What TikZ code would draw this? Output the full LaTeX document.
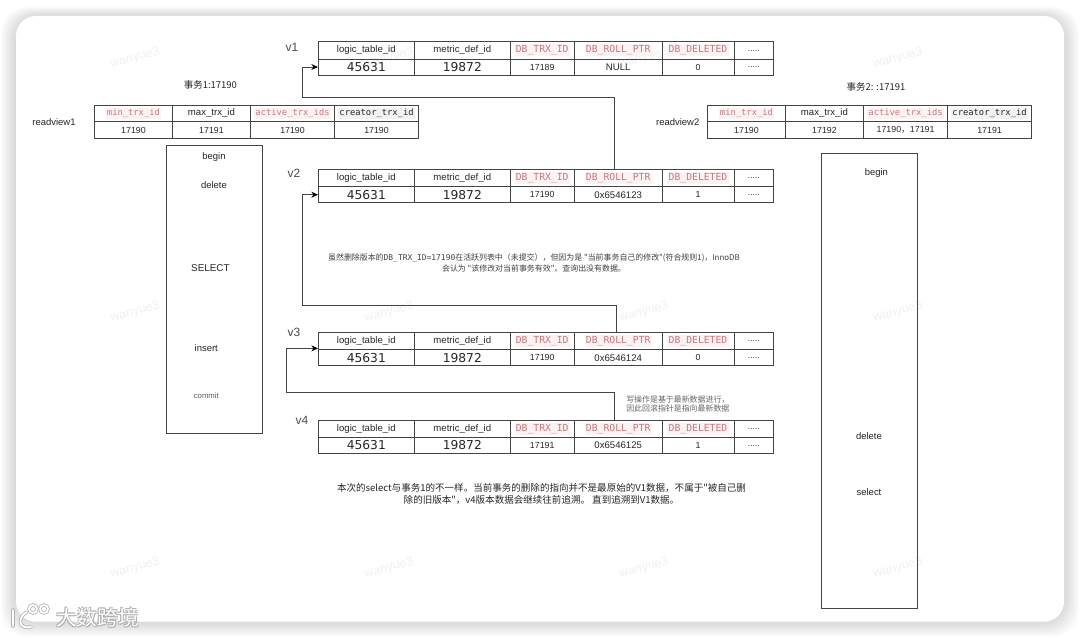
\documentclass[tikz,border=0pt]{standalone}
\usepackage{fontspec}
\setmainfont{Liberation Sans}
\setmonofont{DejaVu Sans Mono}
\newfontfamily\cjkf{Noto Sans CJK SC}
\usetikzlibrary{arrows.meta,calc}
\definecolor{linec}{HTML}{444444}
\definecolor{redt}{HTML}{C6787B}
\definecolor{pinkbg}{HTML}{FBF3F3}
\definecolor{greybg}{HTML}{F2F2F2}
\definecolor{wm}{HTML}{F1F1F1}
\definecolor{logog}{HTML}{B0B0B0}
\newcommand{\hlred}[1]{{\fboxsep=1pt\colorbox{pinkbg}{\fontsize{7.3pt}{8pt}\selectfont\ttfamily\color{redt}#1}}}
\newcommand{\hlrs}[1]{{\fboxsep=1pt\colorbox{pinkbg}{\fontsize{6.6pt}{8pt}\selectfont\ttfamily\color{redt}#1}}}
\newcommand{\hlgrey}[1]{{\fboxsep=1pt\colorbox{greybg}{\fontsize{6.6pt}{8pt}\selectfont\ttfamily\color{black!85}#1}}}
\newcommand{\bigd}[1]{{\fontspec{DejaVu Sans}\fontsize{9.2pt}{11pt}\selectfont #1}}
\newcommand{\dotsrow}{\raisebox{-1.5pt}{\fontsize{6.4pt}{8pt}\selectfont .....}}
\tikzset{
  cell/.style={draw=linec,line width=.7pt,inner sep=0pt,outer sep=0pt,anchor=north west,text=black!85,
     font=\fontsize{7.2pt}{9pt}\selectfont},
  num/.style={cell,font=\fontsize{6.6pt}{8pt}\selectfont},
  lab/.style={inner sep=0pt,text=black!85,font=\fontsize{7.1pt}{9pt}\selectfont},
  vlab/.style={inner sep=0pt,text=black!70,font=\fontsize{9pt}{11pt}\selectfont},
  cjklab/.style={inner sep=0pt,text=black!85,align=center},
  txbox/.style={draw=linec,line width=.7pt,inner sep=0pt,outer sep=0pt,anchor=north west},
  arr/.style={draw=linec,line width=.7pt,-{Stealth[length=5pt,width=4.5pt,black]}},
  wmark/.style={inner sep=0pt,text=wm,rotate=15,font=\fontsize{9.5pt}{11pt}\selectfont},
  logotext/.style={inner sep=0pt,font=\fontsize{15.5pt}{18pt}\cjkf},
}
% version table: name, top y, header h, row h, trx, ptr, deleted
\newcommand{\vtable}[7]{
  \node[cell,minimum width=96.6*.75pt,minimum height=#3*.75pt] (#1a) at (318,#2) {logic\_table\_id};
  \node[cell,minimum width=95.4*.75pt,minimum height=#3*.75pt] (#1b) at (414.6,#2) {metric\_def\_id};
  \node[cell,minimum width=64.4*.75pt,minimum height=#3*.75pt] (#1c) at (510,#2) {\hlred{DB\_TRX\_ID}};
  \node[cell,minimum width=87.6*.75pt,minimum height=#3*.75pt] (#1d) at (574.4,#2) {\hlred{DB\_ROLL\_PTR}};
  \node[cell,minimum width=72*.75pt,minimum height=#3*.75pt] (#1e) at (662,#2) {\hlred{DB\_DELETED}};
  \node[cell,minimum width=39.8*.75pt,minimum height=#3*.75pt] (#1f) at (734,#2) {\dotsrow};
  \node[cell,minimum width=96.6*.75pt,minimum height=#4*.75pt,anchor=north west] (#1g) at (#1a.south west) {\bigd{45631}};
  \node[cell,minimum width=95.4*.75pt,minimum height=#4*.75pt] (#1h) at (#1b.south west) {\bigd{19872}};
  \node[num,minimum width=64.4*.75pt,minimum height=#4*.75pt] (#1i) at (#1c.south west) {#5};
  \node[cell,minimum width=87.6*.75pt,minimum height=#4*.75pt] (#1j) at (#1d.south west) {#6};
  \node[num,minimum width=72*.75pt,minimum height=#4*.75pt] (#1k) at (#1e.south west) {#7};
  \node[cell,minimum width=39.8*.75pt,minimum height=#4*.75pt] (#1l) at (#1f.south west) {\dotsrow};
}
% readview table: name, x0, min, max, active, creator
\newcommand{\rtable}[6]{
  \node[cell,minimum width=77.5*.75pt,minimum height=16*.75pt] (#1a) at (#2,105.3) {\hlrs{min\_trx\_id}};
  \node[cell,minimum width=78.5*.75pt,minimum height=16*.75pt] (#1b) at (#1a.north east) {max\_trx\_id};
  \node[cell,minimum width=83.7*.75pt,minimum height=16*.75pt] (#1c) at (#1b.north east) {\hlrs{active\_trx\_ids}};
  \node[cell,minimum width=84.3*.75pt,minimum height=16*.75pt] (#1d) at (#1c.north east) {\hlgrey{creator\_trx\_id}};
  \node[num,minimum width=77.5*.75pt,minimum height=17.4*.75pt] (#1e) at (#1a.south west) {#3};
  \node[num,minimum width=78.5*.75pt,minimum height=17.4*.75pt] (#1f) at (#1b.south west) {#4};
  \node[num,minimum width=83.7*.75pt,minimum height=17.4*.75pt] (#1g) at (#1c.south west) {#5};
  \node[num,minimum width=84.3*.75pt,minimum height=17.4*.75pt] (#1h) at (#1d.south west) {#6};
}
\begin{document}
\begin{tikzpicture}[x=.75pt,y=-.75pt]
\useasboundingbox (0,0) rectangle (1080,638);
% card shadow
\foreach \e in {1,3,...,15}{
  \fill[black,opacity=.02,rounded corners=20pt] (16-\e,16-\e*.6) rectangle (1064+\e,621.7+\e);
}
\fill[white,rounded corners=15pt] (16,16) rectangle (1064,621.7);
% watermarks
\foreach \wx/\wn in {135/a,389/b,644/c,898/d}{
  \foreach \wy/\wr in {58/p,312/q,568/r}{
    \node[wmark] (wm\wn\wr) at (\wx,\wy) {wanyue3};
  }
}
% version tables
\vtable{vA}{41.3}{17.7}{16}{17189}{NULL}{0}
\vtable{vB}{169}{17.7}{16}{17190}{0x6546123}{1}
\vtable{vC}{332}{17.7}{16}{17190}{0x6546124}{0}
\vtable{vD}{420}{17.3}{16}{17191}{0x6546125}{1}
\node[vlab] (lA) at (292,47) {v1};
\node[vlab] (lB) at (294,173.3) {v2};
\node[vlab] (lC) at (294,332.7) {v3};
\node[vlab] (lD) at (302,420.7) {v4};
% readviews
\rtable{rA}{94.7}{17190}{17191}{17190}{17190}
\rtable{rB}{707.7}{17190}{17192}{17190{\cjkf，}17191}{17191}
\node[lab] (nrA) at (54,121.7) {readview1};
\node[lab] (nrB) at (677.7,121.7) {readview2};
\node[cjklab,font=\fontsize{7.1pt}{9pt}\cjkf] (tA) at (210.4,84.7) {事务1:17190};
\node[cjklab,font=\fontsize{7.1pt}{9pt}\cjkf] (tB) at (876,86.7) {事务2: :17191};
% transaction boxes
\node[txbox,minimum width=96*.75pt,minimum height=287.7*.75pt] (boxA) at (166.7,145.3) {};
\node[txbox,minimum width=96*.75pt,minimum height=455*.75pt] (boxB) at (821.7,153.3) {};
\node[lab] (a1) at (214,156.7) {begin};
\node[lab] (a2) at (214,185.3) {delete};
\node[lab,font=\fontsize{7.4pt}{9pt}\selectfont] (a3) at (210.4,268) {SELECT};
\node[lab] (a4) at (206.3,348.3) {insert};
\node[lab,text=black!65,font=\fontsize{5.8pt}{8pt}\selectfont] (a5) at (206.3,396) {commit};
\node[lab] (b1) at (876.4,172.7) {begin};
\node[lab] (b2) at (868.9,436.3) {delete};
\node[lab] (b3) at (869,492.3) {select};
% arrows
\coordinate (oB) at ([xshift=-2.7pt]vBd.north);
\coordinate (oC) at ([xshift=-1.5pt]vCd.north);
\coordinate (oD) at ([xshift=-2.7pt]vDd.north);
\coordinate (cA) at (302.3,97.3);
\coordinate (cB) at (302.3,305);
\coordinate (cC) at (286,392.3);
\draw[arr] (oB) |- (cA) |- (vAg.west);
\draw[arr] (oC) |- (cB) |- (vBg.west);
\draw[arr] (oD) |- (cC) |- ([yshift=1pt]vCa.south west);
% explanatory texts
\node[cjklab,text=black!75,font=\fontsize{5.95pt}{8.8pt}\cjkf] (n1) at (534,263) {虽然删除版本的{\ttfamily\fontsize{5.95pt}{8.8pt}\selectfont DB\_TRX\_ID=17190}在活跃列表中（未提交），但因为是 "当前事务自己的修改"(符合规则1)，InnoDB\\会认为 "该修改对当前事务有效"。查询出没有数据。};
\node[cjklab,align=left,anchor=west,text=black!60,font=\fontsize{5.95pt}{6.8pt}\cjkf] (n2) at (626,403.8) {写操作是基于最新数据进行，\\因此回滚指针是指向最新数据};
\node[cjklab,font=\fontsize{7.15pt}{9pt}\cjkf] (n3) at (541.5,494.3) {本次的select与事务1的不一样。当前事务的删除的指向并不是最原始的V1数据，不属于"被自己删\\除的旧版本"，v4版本数据会继续往前追溯。 直到追溯到V1数据。};
% logo
\foreach \col/\lw in {logog/2.6pt,white/1.4pt}{
  \begin{scope}[line width=\lw,draw=\col,line cap=round]
    \draw (13,610) -- (13,626);
    \draw (27,612) .. controls (18,616) and (17,630) .. (31,627);
    \draw (33,609) circle[radius=4];
    \draw (44,609) circle[radius=4];
  \end{scope}
}
\foreach \ox/\oy/\on in {-.8/-.8/a,.8/-.8/b,-.8/.8/c,1/1/d}{
  \node[logotext,text=logog] (logoS\on) at (97.5+\ox,617.5+\oy) {大数跨境};
}
\node[logotext,text=white] (logoT) at (97.5,617.5) {大数跨境};
\end{tikzpicture}
\end{document}
